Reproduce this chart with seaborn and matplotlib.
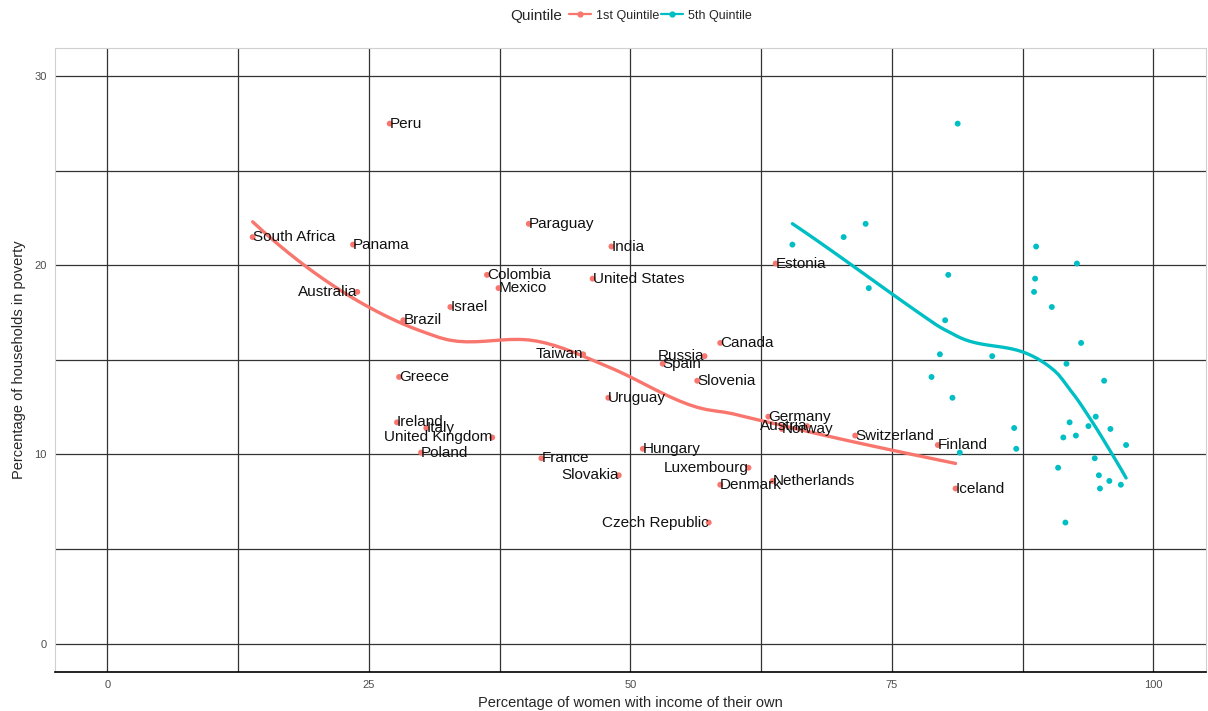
import numpy as np
import pandas as pd
import matplotlib
matplotlib.use("Agg")
import matplotlib.pyplot as plt
from matplotlib.lines import Line2D
import seaborn as sb

# datos (misma pobreza por pais, ingreso por quintil)
countries = ["Peru", "South Africa", "Panama", "Paraguay", "India", "Colombia",
             "United States", "Estonia", "Mexico", "Australia", "Israel", "Brazil",
             "Canada", "Taiwan", "Russia", "Spain", "Greece", "Slovenia", "Uruguay",
             "Germany", "Ireland", "Austria", "Italy", "Norway", "Switzerland",
             "United Kingdom", "Finland", "Hungary", "Poland", "France", "Luxembourg",
             "Slovakia", "Netherlands", "Denmark", "Iceland", "Czech Republic"]
poverty = [27.5, 21.5, 21.1, 22.2, 21.0, 19.5, 19.3, 20.1, 18.8, 18.6, 17.8, 17.1,
           15.9, 15.3, 15.2, 14.8, 14.1, 13.9, 13.0, 12.0, 11.7, 11.5, 11.4, 11.35,
           11.0, 10.9, 10.5, 10.3, 10.1, 9.8, 9.3, 8.9, 8.6, 8.4, 8.2, 6.4]
income_q1 = [27.0, 13.9, 23.5, 40.3, 48.2, 36.3, 46.4, 63.9, 37.4, 23.9, 32.8, 28.3,
             58.6, 45.5, 57.1, 53.1, 27.9, 56.4, 47.9, 63.2, 27.7, 66.9, 30.5, 64.5,
             71.5, 36.8, 79.4, 51.2, 30.0, 41.5, 61.3, 48.9, 63.6, 58.6, 81.1, 57.5]
income_q5 = [81.3, 70.4, 65.5, 72.5, 88.8, 80.4, 88.7, 92.7, 72.8, 88.6, 90.3, 80.1,
             93.1, 79.6, 84.6, 91.7, 78.8, 95.3, 80.8, 94.5, 92.0, 93.8, 86.7, 95.9,
             92.6, 91.4, 97.4, 86.9, 81.5, 94.4, 90.9, 94.8, 95.8, 96.9, 94.9, 91.6]
quintiles = ["1st Quintile", "5th Quintile"]

# etiquetas que van a la izquierda del punto
right_aligned = ["Australia", "Taiwan", "Russia", "Austria", "United Kingdom",
                 "Luxembourg", "Slovakia", "Czech Republic"]

colores = {"1st Quintile": "#F8766D", "5th Quintile": "#00BFC4"}

df = pd.DataFrame({
    "Country": countries * 2,
    "Poverty": poverty * 2,
    "Income": income_q1 + income_q5,
    "Quintile": [quintiles[0]] * len(countries) + [quintiles[1]] * len(countries),
})


# ajuste local cuadratico en x0 -> (valor, pendiente)
def ajuste_local(x, y, x0, q):
    d = np.abs(x - x0)
    h = np.sort(d)[q - 1]
    w = np.clip(1 - (d / h) ** 3, 0, None) ** 3
    X = np.column_stack([np.ones_like(x), x - x0, (x - x0) ** 2])
    W = np.diag(w)
    beta = np.linalg.lstsq(X.T @ W @ X, X.T @ W @ y, rcond=None)[0]
    return beta[0], beta[1]


# loess como en R (span 0.75, grado 2, vertices kd + interpolacion cubica)
def loess(x, y, span=0.75, cell=0.2, n=80):
    x = np.asarray(x, float)
    y = np.asarray(y, float)
    q = int(np.floor(len(x) * span))
    fc = int(np.floor(len(x) * span * cell))
    xo = np.sort(x)
    mu = 0.005 * (xo[-1] - xo[0])
    vert = [xo[0] - mu, xo[-1] + mu]

    def partir(pts):
        if len(pts) <= fc:
            return
        m = (len(pts) + 1) // 2
        corte = (pts[m - 1] + pts[m]) / 2
        vert.append(corte)
        partir(pts[:m])
        partir(pts[m:])

    partir(xo)
    vert = np.sort(vert)
    vals = np.array([ajuste_local(x, y, v, q) for v in vert])
    xs = np.linspace(xo[0], xo[-1], n)
    ys = []
    for x0 in xs:
        i = min(np.searchsorted(vert, x0, side="right") - 1, len(vert) - 2)
        a, b = vert[i], vert[i + 1]
        hh = b - a
        t = (x0 - a) / hh
        h00 = 2 * t**3 - 3 * t**2 + 1
        h10 = t**3 - 2 * t**2 + t
        h01 = -2 * t**3 + 3 * t**2
        h11 = t**3 - t**2
        ys.append(h00 * vals[i, 0] + h10 * hh * vals[i, 1]
                  + h01 * vals[i + 1, 0] + h11 * hh * vals[i + 1, 1])
    return xs, np.array(ys)


curvas = []
for qn in quintiles:
    sub = df[df["Quintile"] == qn]
    xs, ys = loess(sub["Income"], sub["Poverty"])
    curvas.append(pd.DataFrame({"Income": xs, "Poverty": ys, "Quintile": qn}))
df_smooth = pd.concat(curvas)

sb.set_style("white")
plt.rcParams["font.family"] = ["Liberation Sans", "DejaVu Sans"]

fig = plt.figure(figsize=(12.08, 7.11), dpi=100)
ax = fig.add_axes([0.0455, 0.055, 0.9525, 0.8775])

sb.scatterplot(data=df, x="Income", y="Poverty", hue="Quintile", palette=colores,
               s=18, linewidth=0, legend=False, ax=ax, zorder=3)
sb.lineplot(data=df_smooth, x="Income", y="Poverty", hue="Quintile", palette=colores,
            linewidth=2.4, legend=False, ax=ax, zorder=4, sort=False)

sub1 = df[df["Quintile"] == quintiles[0]]
for _, row in sub1.iterrows():
    ha = "right" if row["Country"] in right_aligned else "left"
    ax.text(row["Income"], row["Poverty"], row["Country"], ha=ha, va="center",
            fontsize=11, color="#111111", zorder=5)

ax.set_xlim(-5, 105)
ax.set_ylim(-1.5, 31.5)
ax.set_xticks([0, 25, 50, 75, 100])
ax.set_yticks([0, 10, 20, 30])
ax.set_xticks([12.5, 37.5, 62.5, 87.5], minor=True)
ax.set_yticks([5, 15, 25], minor=True)
ax.grid(True, which="both", color="#333333", linewidth=0.9)
ax.set_axisbelow(True)
ax.tick_params(axis="both", which="major", length=3, color="#555555",
               labelsize=8, labelcolor="#4d4d4d", pad=3)
ax.tick_params(axis="both", which="minor", length=0)
for lado in ["left", "right", "top"]:
    ax.spines[lado].set_color("#d0d0d0")
    ax.spines[lado].set_linewidth(0.8)
ax.spines["bottom"].set_color("black")
ax.spines["bottom"].set_linewidth(1.2)

ax.set_xlabel("Percentage of women with income of their own", fontsize=10.5, labelpad=4)
ax.set_ylabel("Percentage of households in poverty", fontsize=10.5, labelpad=6)

# leyenda arriba en horizontal
fig.text(0.422, 0.978, "Quintile", fontsize=11, va="center", ha="left")
handles = [Line2D([0], [0], color=colores[q], lw=1.6, marker="o", markersize=3.5)
           for q in quintiles]
fig.legend(handles, quintiles, loc="center left", bbox_to_anchor=(0.471, 0.978),
           ncol=2, frameon=False, fontsize=9, handlelength=1.75,
           handletextpad=0.4, columnspacing=0.15, borderaxespad=0, borderpad=0)

fig.savefig("out.png", dpi=100)
